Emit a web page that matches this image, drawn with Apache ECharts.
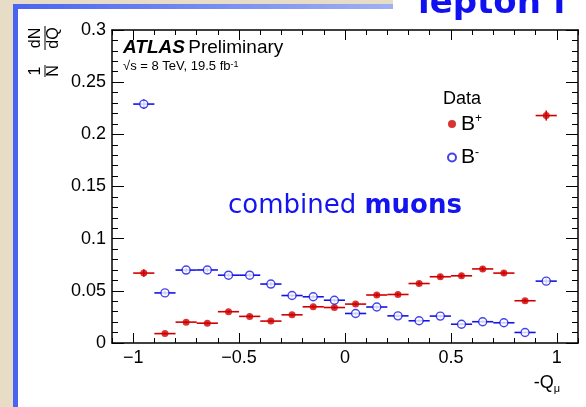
<!DOCTYPE html>
<html>
<head>
<meta charset="utf-8">
<script src="https://cdn.jsdelivr.net/npm/echarts@6/dist/echarts.min.js"></script>
<style>
  html, body { margin: 0; padding: 0; background: #e7ddc7; }
  #chart { width: 586px; height: 407px; }
</style>
</head>
<body>
<div id="chart"></div>
<script>
// Normalised charge distribution (1/N dN/dQ) of B+ and B- candidates vs -Q_mu
const binCenters = [-0.95, -0.85, -0.75, -0.65, -0.55, -0.45, -0.35, -0.25, -0.15, -0.05,
                     0.05, 0.15, 0.25, 0.35, 0.45, 0.55, 0.65, 0.75, 0.85, 0.95];
const binHalfWidth = 0.05;

const bPlus = [0.067, 0.009, 0.020, 0.019, 0.030, 0.0255, 0.021, 0.027, 0.0347, 0.034,
               0.0373, 0.046, 0.0465, 0.057, 0.0635, 0.0644, 0.071, 0.067, 0.0405, 0.218];
const bPlusErr = [0.0035, 0.0010, 0.0012, 0.0012, 0.0014, 0.0013, 0.0012, 0.0013, 0.0015, 0.0015,
                  0.0015, 0.0017, 0.0017, 0.0019, 0.0020, 0.0020, 0.0021, 0.0020, 0.0016, 0.0048];

const bMinus = [0.229, 0.048, 0.0699, 0.070, 0.065, 0.065, 0.0565, 0.0455, 0.0443, 0.041,
                0.0283, 0.0345, 0.026, 0.0213, 0.0258, 0.018, 0.0204, 0.0194, 0.0101, 0.0593];
const bMinusErr = [0.0045, 0.0018, 0.0021, 0.0021, 0.0020, 0.0020, 0.0019, 0.0017, 0.0017, 0.0016,
                   0.0013, 0.0015, 0.0013, 0.0012, 0.0013, 0.0011, 0.0012, 0.0011, 0.0008, 0.0025];

const xTickLabels = [-1, -0.5, 0, 0.5, 1];
const yTickLabels = [0, 0.05, 0.1, 0.15, 0.2, 0.25, 0.3];

const RED = '#d00000';
const BLUE = '#1414e6';
const FONT = '"Liberation Sans", Arial, sans-serif';

const chart = echarts.init(document.getElementById('chart'), null, { renderer: 'canvas' });

function errorBars(color) {
  return function (params, api) {
    const x = api.value(0), y = api.value(1), e = api.value(2);
    const l = api.coord([x - binHalfWidth, y]);
    const r = api.coord([x + binHalfWidth, y]);
    const lo = api.coord([x, y - e]);
    const hi = api.coord([x, y + e]);
    return {
      type: 'group',
      children: [
        { type: 'line', shape: { x1: l[0], y1: l[1], x2: r[0], y2: r[1] }, style: { stroke: color, lineWidth: 1.6 } },
        { type: 'line', shape: { x1: lo[0], y1: lo[1], x2: hi[0], y2: hi[1] }, style: { stroke: color, lineWidth: 1.6 } }
      ]
    };
  };
}

const axisLine = { show: true, onZero: false, lineStyle: { color: '#000', width: 1.5 } };
const noLine = { show: false, onZero: false };
const fmtNum = v => (v < 0 ? '\u2212' + Math.abs(v) : String(v));

function xAxisDef(position, major, showLine, showLabel) {
  const ax = {
    type: 'value', position: position, min: -1.1, max: 1.1,
    axisLine: showLine ? axisLine : noLine,
    splitLine: { show: false },
    axisTick: { show: true, inside: true, length: major ? 10 : 5, lineStyle: { color: '#000', width: 1 } },
    axisLabel: { show: false }
  };
  if (major) {
    ax.axisTick.customValues = xTickLabels;
  } else {
    ax.interval = 0.1;
  }
  if (showLabel) {
    ax.axisLabel = { show: true, customValues: xTickLabels, formatter: fmtNum, fontSize: 18, fontFamily: FONT, color: '#000', margin: 6 };
  }
  return ax;
}

function yAxisDef(position, major, showLine, showLabel) {
  const ax = {
    type: 'value', position: position, min: 0, max: 0.3,
    axisLine: showLine ? axisLine : noLine,
    splitLine: { show: false },
    axisTick: { show: true, inside: true, length: major ? 12 : 6, lineStyle: { color: '#000', width: 1 } },
    axisLabel: { show: false }
  };
  if (major) {
    ax.axisTick.customValues = yTickLabels;
  } else {
    ax.interval = 0.01;
  }
  if (showLabel) {
    ax.axisLabel = { show: true, customValues: yTickLabels, formatter: v => String(v), fontSize: 18, fontFamily: FONT, color: '#000', margin: 6 };
  }
  return ax;
}

const option = {
  animation: false,
  backgroundColor: 'transparent',
  grid: { left: 112, right: 8, top: 30, bottom: 64, containLabel: false },
  xAxis: [
    xAxisDef('bottom', false, true, true),
    xAxisDef('bottom', true, false, false),
    xAxisDef('top', false, true, false),
    xAxisDef('top', true, false, false)
  ],
  yAxis: [
    yAxisDef('left', false, true, true),
    yAxisDef('left', true, false, false),
    yAxisDef('right', false, true, false),
    yAxisDef('right', true, false, false)
  ],
  legend: {
    orient: 'vertical', left: 447, top: 113, padding: 0, itemWidth: 8, itemHeight: 8, itemGap: 12,
    icon: 'circle',
    data: ['B+', 'B-'],
    formatter: name => (name === 'B+' ? '{b|B}{s|+}' : '{b|B}{s|-}'),
    textStyle: {
      color: '#000', fontFamily: FONT,
      rich: {
        b: { fontSize: 21, lineHeight: 22, fontFamily: FONT, color: '#000' },
        s: { fontSize: 12, lineHeight: 12, verticalAlign: 'top', fontFamily: FONT, color: '#000' }
      }
    }
  },
  series: [
    {
      name: 'B+ errors', type: 'custom', renderItem: errorBars(RED), z: 3,
      data: binCenters.map((x, i) => [x, bPlus[i], bPlusErr[i]]),
      encode: { x: 0, y: 1 }, silent: true
    },
    {
      name: 'B- errors', type: 'custom', renderItem: errorBars(BLUE), z: 3,
      data: binCenters.map((x, i) => [x, bMinus[i], bMinusErr[i]]),
      encode: { x: 0, y: 1 }, silent: true
    },
    {
      name: 'B+', type: 'scatter', symbol: 'circle', symbolSize: 7, z: 5,
      itemStyle: { color: RED },
      data: binCenters.map((x, i) => [x, bPlus[i]])
    },
    {
      name: 'B-', type: 'scatter', symbol: 'circle', symbolSize: 8, z: 6,
      itemStyle: { color: '#fff', borderColor: BLUE, borderWidth: 1.4 },
      data: binCenters.map((x, i) => [x, bMinus[i]])
    }
  ],
  graphic: [
    // slide frame behind the figure
    { type: 'rect', z: -10, shape: { x: 13, y: 4, width: 573, height: 403 }, style: { fill: '#fff' } },
    { type: 'rect', z: -9, shape: { x: 13, y: 4, width: 5, height: 403 }, style: { fill: '#4a64f0' } },
    {
      type: 'rect', z: -9, shape: { x: 13, y: 4, width: 380, height: 5 },
      style: {
        fill: new echarts.graphic.LinearGradient(0, 0, 1, 0, [
          { offset: 0, color: '#4a64f0' }, { offset: 1, color: '#9fb0f2' }
        ])
      }
    },
    { type: 'rect', z: -9, shape: { x: 393, y: 0, width: 193, height: 14 }, style: { fill: '#fff' } },
    {
      type: 'text', z: -8, left: 418, top: -13,
      style: { text: 'lepton f', font: 'bold 34px "DejaVu Sans", sans-serif', fill: '#1010f0' }
    },
    // y-axis title: 1/N dN/dQ, rotated
    {
      type: 'group', x: 45, y: 54, rotation: Math.PI / 2,
      children: [
        { type: 'text', x: -17, y: -9, style: { text: '1', font: '16px ' + FONT, fill: '#000', align: 'center', verticalAlign: 'middle' } },
        { type: 'line', shape: { x1: -23, y1: 0, x2: -11, y2: 0 }, style: { stroke: '#000', lineWidth: 1 } },
        { type: 'text', x: -17, y: 9, style: { text: 'N', font: '16px ' + FONT, fill: '#000', align: 'center', verticalAlign: 'middle' } },
        { type: 'text', x: 16, y: -9, style: { text: 'dN', font: '16px ' + FONT, fill: '#000', align: 'center', verticalAlign: 'middle' } },
        { type: 'line', shape: { x1: 4, y1: 0, x2: 28, y2: 0 }, style: { stroke: '#000', lineWidth: 1 } },
        { type: 'text', x: 16, y: 9, style: { text: 'dQ', font: '16px ' + FONT, fill: '#000', align: 'center', verticalAlign: 'middle' } }
      ]
    },
    // experiment label
    {
      type: 'text', left: 123, top: 38,
      style: {
        text: '{a|ATLAS} {p|Preliminary}',
        rich: {
          a: { font: 'italic bold 19px ' + FONT, fill: '#000' },
          p: { font: '19px ' + FONT, fill: '#000' }
        }
      }
    },
    {
      type: 'text', left: 123, top: 60,
      style: {
        text: '\u221As = 8 TeV, 19.5 fb{s|-1}',
        font: '13px ' + FONT, fill: '#000',
        rich: { s: { font: '9px ' + FONT, verticalAlign: 'top', fill: '#000' } }
      }
    },
    {
      type: 'text', left: 443, top: 90,
      style: { text: 'Data', font: '18px ' + FONT, fill: '#000' }
    },
    {
      type: 'text', left: 228, top: 193,
      style: {
        text: '{n|combined }{b|muons}',
        rich: {
          n: { font: '26px "DejaVu Sans", sans-serif', fill: '#1414f0' },
          b: { font: 'bold 26px "DejaVu Sans", sans-serif', fill: '#1414f0' }
        }
      }
    },
    {
      type: 'text', right: 26, top: 374,
      style: {
        text: '{q|-Q}{m|\u03BC}',
        rich: {
          q: { font: '18px ' + FONT, fill: '#000', lineHeight: 22 },
          m: { font: '11px ' + FONT, fill: '#000', verticalAlign: 'bottom' }
        }
      }
    }
  ]
};

chart.setOption(option);
</script>
</body>
</html>
